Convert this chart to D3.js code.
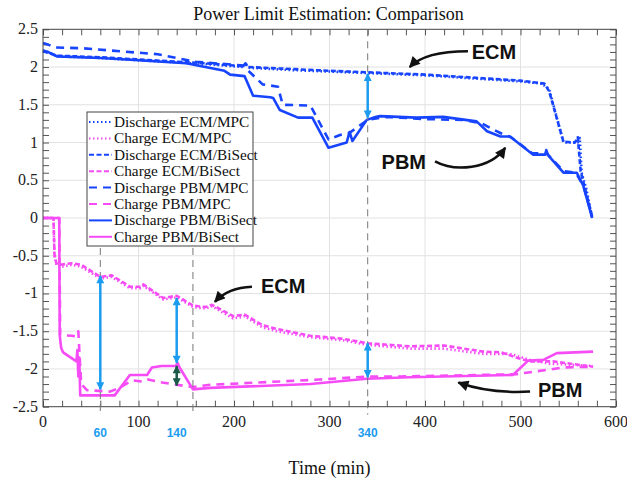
<!DOCTYPE html>
<html>
<head>
<meta charset="utf-8">
<script src="https://cdn.jsdelivr.net/npm/d3@7"></script>
<style>
body { margin: 0; background: #fff; }
svg { display: block; }
text { font-family: "Liberation Serif", "Times New Roman", serif; }
</style>
</head>
<body>
<div id="chart"></div>
<script>
// time (min), power limit
var dischargeEcmMpc = [[0,2.22],[5,2.2],[15,2.14],[40,2.13],[60,2.12],[100,2.09],[130,2.07],[170,2.04],[200,2.01],[210,2.0],[212,2.05],[215,1.99],[260,1.96],[300,1.94],[340,1.92],[400,1.89],[450,1.85],[500,1.81],[522,1.78],[530,1.71],[545,1.0],[560,1.0],[562,1.06],[564,0.6],[569,0.38],[575,0.0]];
var dischargeEcmBisect = [[0,2.21],[5,2.19],[15,2.15],[60,2.13],[100,2.1],[170,2.05],[210,2.01],[212,2.05],[215,2.0],[300,1.95],[340,1.93],[400,1.9],[500,1.82],[525,1.78],[530,1.68],[545,1.01],[557,1.0],[560,1.07],[563,0.62],[575,0.02]];
var dischargePbmMpc = [[0,2.32],[5,2.3],[12,2.26],[40,2.25],[70,2.22],[100,2.19],[120,2.17],[140,2.12],[160,2.07],[200,2.03],[210,2.02],[215,1.95],[230,1.77],[246,1.74],[251,1.5],[280,1.49],[299,1.04],[311,1.1],[320,1.12],[340,1.3],[360,1.34],[400,1.31],[440,1.3],[460,1.25],[470,1.18],[480,1.12],[490,1.07],[512,0.86],[528,0.85],[545,0.62],[558,0.6],[566,0.42],[575,0.02]];
var dischargePbmBisect = [[0,2.22],[5,2.2],[15,2.14],[60,2.12],[100,2.09],[150,2.05],[190,1.95],[196,1.9],[211,1.88],[220,1.62],[238,1.6],[241,1.59],[248,1.43],[267,1.33],[282,1.33],[299,0.93],[318,1.0],[321,1.14],[324,1.02],[339,1.3],[349,1.34],[353,1.35],[391,1.33],[419,1.34],[454,1.28],[465,1.15],[479,1.08],[489,1.08],[513,0.84],[526,0.84],[527,0.9],[529,0.83],[545,0.6],[559,0.6],[566,0.42],[575,0.0]];
var chargeEcmMpc = [[0,0],[11,0],[12,-0.5],[14,-0.62],[18,-0.65],[30,-0.62],[39,-0.64],[60,-0.8],[72,-0.78],[91,-0.93],[102,-0.93],[105,-0.9],[126,-1.08],[140,-1.05],[157,-1.18],[170,-1.2],[177,-1.17],[199,-1.33],[209,-1.31],[211,-1.3],[230,-1.45],[245,-1.5],[280,-1.58],[314,-1.62],[340,-1.68],[384,-1.73],[419,-1.73],[461,-1.8],[489,-1.8],[510,-1.88],[530,-1.93],[576,-1.96]];
var chargeEcmBisect = [[0,0],[11,0],[12,-0.48],[14,-0.6],[18,-0.62],[30,-0.6],[40,-0.62],[60,-0.78],[72,-0.76],[91,-0.91],[102,-0.91],[105,-0.88],[126,-1.06],[140,-1.03],[157,-1.16],[170,-1.18],[177,-1.15],[199,-1.3],[211,-1.28],[230,-1.42],[245,-1.47],[280,-1.56],[314,-1.6],[340,-1.66],[384,-1.7],[420,-1.69],[461,-1.77],[480,-1.78],[496,-1.85],[510,-1.9],[534,-1.9],[576,-1.97]];
var chargePbmMpc = [[0,0],[17,0],[18,-1.55],[30,-1.56],[35,-1.57],[37,-1.5],[38,-1.75],[40,-2.2],[46,-2.28],[70,-2.3],[80,-2.25],[94,-2.15],[105,-2.17],[110,-2.14],[125,-2.18],[140,-2.21],[157,-2.24],[175,-2.21],[290,-2.14],[340,-2.1],[374,-2.1],[496,-2.07],[506,-2.05],[529,-2.01],[545,-1.98],[576,-1.97]];
var chargePbmBisect = [[0,0],[17,0],[17.5,-1.55],[19,-1.72],[21,-1.78],[35,-1.9],[36,-1.75],[37,-2.1],[38,-1.85],[39,-2.35],[75,-2.35],[91,-2.08],[109,-2.08],[114,-1.98],[124,-1.96],[139,-1.96],[141,-1.92],[143,-1.98],[157,-2.27],[175,-2.25],[280,-2.2],[339,-2.13],[384,-2.11],[492,-2.08],[508,-1.89],[524,-1.88],[538,-1.79],[576,-1.77]];

var xTicks = [0, 100, 200, 300, 400, 500, 600];
var yTicks = [-2.5, -2, -1.5, -1, -0.5, 0, 0.5, 1, 1.5, 2, 2.5];
var markedTimes = [60, 140, 340];
var guideTimes = [60, 157, 340];

var width = 627, height = 482;
var margin = {top: 29.3, right: 11, bottom: 75.3, left: 43};
var blue = "#1744ff", magenta = "#f64cf6", cyan = "#1b9cf0", green = "#1b5a48";

var series = [
  {name: "Discharge ECM/MPC", data: dischargeEcmMpc, color: blue, dash: "1.5,2.5"},
  {name: "Charge ECM/MPC", data: chargeEcmMpc, color: magenta, dash: "1.5,2.5"},
  {name: "Discharge ECM/BiSect", data: dischargeEcmBisect, color: blue, dash: "5,2.5"},
  {name: "Charge ECM/BiSect", data: chargeEcmBisect, color: magenta, dash: "5,2.5"},
  {name: "Discharge PBM/MPC", data: dischargePbmMpc, color: blue, dash: "8,6"},
  {name: "Charge PBM/MPC", data: chargePbmMpc, color: magenta, dash: "8,6"},
  {name: "Discharge PBM/BiSect", data: dischargePbmBisect, color: blue, dash: null},
  {name: "Charge PBM/BiSect", data: chargePbmBisect, color: magenta, dash: null}
];

var x = d3.scaleLinear().domain([0, 600]).range([margin.left, width - margin.right]);
var y = d3.scaleLinear().domain([-2.5, 2.5]).range([height - margin.bottom, margin.top]);

var svg = d3.select("#chart").append("svg").attr("width", width).attr("height", height);
var defs = svg.append("defs");
function arrowMarker(id, color, w, h) {
  defs.append("marker").attr("id", id)
    .attr("viewBox", "0 -5 10 10").attr("refX", 9).attr("refY", 0)
    .attr("markerWidth", w).attr("markerHeight", h)
    .attr("markerUnits", "userSpaceOnUse").attr("orient", "auto-start-reverse")
    .append("path").attr("d", "M0,-5L10,0L0,5Z").attr("fill", color);
}
arrowMarker("headCyan", cyan, 9, 8);
arrowMarker("headGreen", green, 9, 8);
arrowMarker("headBlack", "#111", 12, 11);

// grid
svg.append("g").selectAll("line").data(xTicks.slice(1, -1)).enter().append("line")
  .attr("x1", function(d) { return x(d); }).attr("x2", function(d) { return x(d); })
  .attr("y1", y(2.5)).attr("y2", y(-2.5)).attr("stroke", "#e2e2e2");
svg.append("g").selectAll("line").data(yTicks.slice(1, -1)).enter().append("line")
  .attr("y1", function(d) { return y(d); }).attr("y2", function(d) { return y(d); })
  .attr("x1", x(0)).attr("x2", x(600)).attr("stroke", "#e2e2e2");

// inward ticks on all four sides
var minorX = d3.range(0, 601, 20), minorY = d3.range(-25, 26).map(function(d) { return d / 10; });
svg.append("g").attr("transform", "translate(0," + y(-2.5) + ")")
  .call(d3.axisBottom(x).tickValues(minorX).tickSize(-6).tickFormat(""));
svg.append("g").attr("transform", "translate(0," + y(2.5) + ")")
  .call(d3.axisTop(x).tickValues(minorX).tickSize(-6).tickFormat(""));
svg.append("g").attr("transform", "translate(" + x(0) + ",0)")
  .call(d3.axisLeft(y).tickValues(minorY).tickSize(-6).tickFormat(""));
svg.append("g").attr("transform", "translate(" + x(600) + ",0)")
  .call(d3.axisRight(y).tickValues(minorY).tickSize(-6).tickFormat(""));
svg.selectAll(".domain").remove();
svg.selectAll(".tick line").attr("stroke", "#555");

// tick labels
svg.append("g").selectAll("text").data(xTicks).enter().append("text")
  .attr("x", function(d) { return x(d); }).attr("y", y(-2.5) + 20)
  .attr("text-anchor", "middle").style("font-size", "16px").attr("fill", "#222")
  .text(function(d) { return d; });
svg.append("g").selectAll("text").data(yTicks).enter().append("text")
  .attr("x", x(0) - 5).attr("y", function(d) { return y(d) + 5; })
  .attr("text-anchor", "end").style("font-size", "16px").attr("fill", "#222")
  .text(function(d) { return String(d); });
svg.append("g").selectAll("text").data(markedTimes).enter().append("text")
  .attr("x", function(d) { return x(d); }).attr("y", y(-2.5) + 30)
  .attr("text-anchor", "middle").attr("fill", cyan)
  .style("font-family", "'Liberation Sans', Arial, sans-serif").style("font-size", "12px").style("font-weight", "bold")
  .text(function(d) { return d; });

// titles
svg.append("text").attr("x", (x(0) + x(600)) / 2 - 1).attr("y", 20).attr("text-anchor", "middle")
  .style("font-size", "18px").attr("fill", "#111").text("Power Limit Estimation: Comparison");
svg.append("text").attr("x", (x(0) + x(600)) / 2).attr("y", 474).attr("text-anchor", "middle")
  .style("font-size", "18px").attr("fill", "#111").text("Time (min)");

// series
var line = d3.line().x(function(d) { return x(d[0]); }).y(function(d) { return y(d[1]); });
svg.append("g").selectAll("path").data(series.slice().reverse()).enter().append("path")
  .attr("d", function(d) { return line(d.data); })
  .attr("fill", "none").attr("stroke", function(d) { return d.color; })
  .attr("stroke-width", 2.6).attr("stroke-linejoin", "round")
  .attr("stroke-dasharray", function(d) { return d.dash; });

// frame
svg.append("rect").attr("x", x(0)).attr("y", y(2.5)).attr("width", x(600) - x(0)).attr("height", y(-2.5) - y(2.5))
  .attr("fill", "none").attr("stroke", "#444");

// legend
var lg = {x: 87, y: 112, w: 166, h: 134, row: 16.4};
var legend = svg.append("g");
legend.append("rect").attr("x", lg.x).attr("y", lg.y).attr("width", lg.w).attr("height", lg.h)
  .attr("fill", "#fff").attr("stroke", "#444");
var items = legend.selectAll("g.item").data(series).enter().append("g")
  .attr("transform", function(d, i) { return "translate(" + lg.x + "," + (lg.y + 10 + i * lg.row) + ")"; });
items.append("line").attr("x1", 2).attr("x2", 25).attr("y1", 0).attr("y2", 0)
  .attr("stroke", function(d) { return d.color; }).attr("stroke-width", 2)
  .attr("stroke-dasharray", function(d) { return d.dash; });
items.append("text").attr("x", 27).attr("y", 5).style("font-size", "15.3px").attr("fill", "#111")
  .text(function(d) { return d.name; });

// dashed guide lines
svg.append("g").selectAll("line").data(guideTimes).enter().append("line")
  .attr("x1", function(d) { return x(d); }).attr("x2", function(d) { return x(d); })
  .attr("y1", function(d) { return d > 300 ? y(2.5) : lg.y + lg.h + 2; })
  .attr("y2", y(-2.5) + 8)
  .attr("stroke", "#777").attr("stroke-dasharray", "7,5");

// double-headed arrows
var gaps = [
  {t: 60, from: -0.77, to: -2.27, color: "headCyan", stroke: cyan},
  {t: 140, from: -1.06, to: -1.92, color: "headCyan", stroke: cyan},
  {t: 140, from: -1.96, to: -2.22, color: "headGreen", stroke: green},
  {t: 340, from: 1.91, to: 1.33, color: "headCyan", stroke: cyan},
  {t: 340, from: -1.66, to: -2.11, color: "headCyan", stroke: cyan}
];
svg.append("g").selectAll("line").data(gaps).enter().append("line")
  .attr("x1", function(d) { return x(d.t); }).attr("x2", function(d) { return x(d.t); })
  .attr("y1", function(d) { return y(d.from); }).attr("y2", function(d) { return y(d.to); })
  .attr("stroke", function(d) { return d.stroke; }).attr("stroke-width", 2.5)
  .attr("marker-start", function(d) { return "url(#" + d.color + ")"; })
  .attr("marker-end", function(d) { return "url(#" + d.color + ")"; });

// annotations (data coordinates)
var notes = [
  {label: "ECM", at: [449, 2.10], curve: [[445, 2.21], [400, 2.21], [384, 2.0]]},
  {label: "PBM", at: [354.5, 0.65], curve: [[410.5, 0.75], [431, 0.61], [468, 0.64], [484, 0.93]]},
  {label: "ECM", at: [228.3, -0.99], curve: [[218.8, -0.91], [194, -0.92], [180, -1.11]]},
  {label: "PBM", at: [518.3, -2.37], curve: [[510, -2.30], [468, -2.33], [435, -2.18]]}
];
function curvePath(c) {
  var p = c.map(function(d) { return x(d[0]) + "," + y(d[1]); });
  return "M" + p[0] + (p.length === 3 ? "Q" : "C") + p.slice(1).join(" ");
}
svg.append("g").selectAll("path").data(notes).enter().append("path")
  .attr("d", function(d) { return curvePath(d.curve); })
  .attr("fill", "none").attr("stroke", "#111").attr("stroke-width", 2.5)
  .attr("marker-end", "url(#headBlack)");
svg.append("g").selectAll("text").data(notes).enter().append("text")
  .attr("x", function(d) { return x(d.at[0]); }).attr("y", function(d) { return y(d.at[1]); })
  .style("font-family", "'Liberation Sans', Arial, sans-serif").style("font-size", "20px").style("font-weight", "bold")
  .attr("fill", "#111").text(function(d) { return d.label; });
</script>
</body>
</html>
